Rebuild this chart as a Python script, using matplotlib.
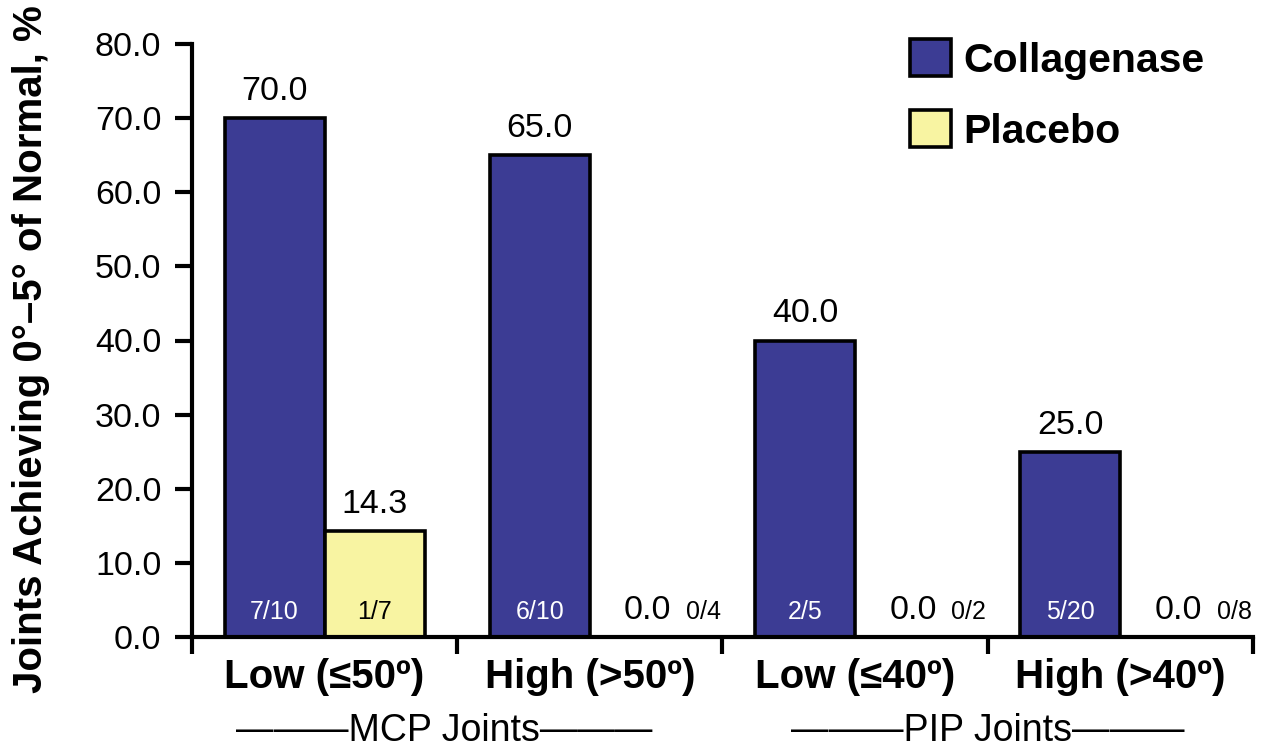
import matplotlib.pyplot as plt
import numpy as np

plt.rcParams['font.family'] = ['Liberation Sans', 'DejaVu Sans']

# data
categories = ['Low (≤50º)', 'High (>50º)', 'Low (≤40º)', 'High (>40º)']
collagenase = [70.0, 65.0, 40.0, 25.0]
placebo = [14.3, 0.0, 0.0, 0.0]
collagenase_n = ['7/10', '6/10', '2/5', '5/20']
placebo_n = ['1/7', '0/4', '0/2', '0/8']
groups = ['———MCP Joints———', '———PIP Joints———']

blue = '#3c3c94'
yellow = '#f8f4a2'

fig = plt.figure(figsize=(12.62, 7.5), dpi=100)
ax = fig.add_axes([0.1521, 0.1507, 0.8408, 0.7906])

x = np.arange(len(categories))
w = 0.377

b1 = ax.bar(x - w / 2, collagenase, w, color=blue, edgecolor='black', linewidth=2.6, label='Collagenase')
b2 = ax.bar(x + w / 2, placebo, w, color=yellow, edgecolor='black', linewidth=2.6, label='Placebo')


def label_bars(bars, vals, fracs, txtcolor):
    for bar, v, f in zip(bars, vals, fracs):
        cx = bar.get_x() + bar.get_width() / 2
        if v == 0:
            ax.annotate(f'{v:.1f}', (cx + 0.03, v), xytext=(0, 13), textcoords='offset points',
                        ha='center', va='baseline', fontsize=24.5)
            ax.annotate(f, (cx + 0.24, 0), xytext=(0, 13), textcoords='offset points',
                        ha='center', va='baseline', fontsize=18, color='black')
        else:
            ax.annotate(f'{v:.1f}', (cx, v), xytext=(0, 13), textcoords='offset points',
                        ha='center', va='baseline', fontsize=24.5)
            ax.annotate(f, (cx, 0), xytext=(0, 13), textcoords='offset points',
                        ha='center', va='baseline', fontsize=18, color=txtcolor)


label_bars(b1, collagenase, collagenase_n, 'white')
label_bars(b2, placebo, placebo_n, 'black')

ax.set_xlim(-0.5, len(categories) - 0.5)
ax.set_ylim(0, 80)
ax.set_yticks(np.arange(0, 81, 10))
ax.set_yticklabels([f'{t:.1f}' for t in np.arange(0, 81, 10)], fontsize=24.5)

ax.set_xticks(np.arange(-0.5, len(categories), 1.0))
ax.set_xticklabels([])
ax.set_xticks(x, minor=True)
ax.set_xticklabels(categories, minor=True, fontsize=29, fontweight='bold')
ax.tick_params(axis='x', which='minor', length=0, pad=15)
ax.tick_params(axis='x', which='major', length=12, width=3, direction='out')
ax.tick_params(axis='y', length=12, width=3, direction='out', pad=10)

for s in ['top', 'right']:
    ax.spines[s].set_visible(False)
for s in ['left', 'bottom']:
    ax.spines[s].set_linewidth(3)

ax.set_ylabel('Joints Achieving 0°–5° of Normal, %', fontsize=29, fontweight='bold')
ax.yaxis.set_label_coords(-0.134, 0.486)

# group labels under the categories
ax.text(0.45, -0.158, groups[0], transform=ax.get_xaxis_transform(), ha='center', va='center', fontsize=27)
ax.text(2.5, -0.158, groups[1], transform=ax.get_xaxis_transform(), ha='center', va='center', fontsize=27)

leg = ax.legend(loc='upper left', bbox_to_anchor=(0.677, 1.008), frameon=False,
                prop={'size': 29.5, 'weight': 'bold'}, handlelength=1.0, handleheight=1.0,
                handletextpad=0.3, labelspacing=0.75, borderpad=0, borderaxespad=0)

fig.savefig('out.png', dpi=100)
